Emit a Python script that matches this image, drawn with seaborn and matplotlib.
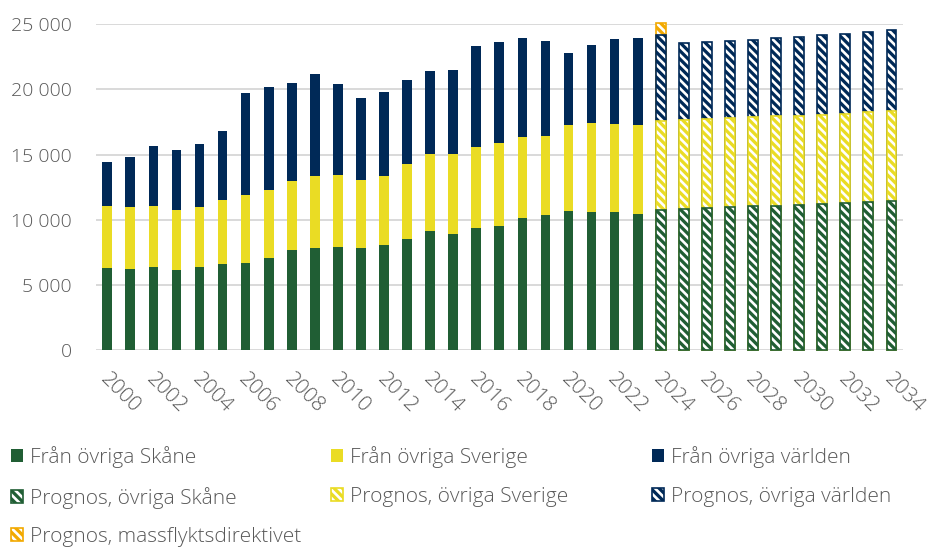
import matplotlib
matplotlib.use("Agg")
import matplotlib.pyplot as plt
import seaborn as sns
import pandas as pd
from matplotlib.patches import Rectangle, Patch
from matplotlib.legend_handler import HandlerTuple
from matplotlib.transforms import ScaledTranslation

# ---------------- data ----------------
years = [2000, 2001, 2002, 2003, 2004, 2005, 2006, 2007, 2008, 2009,
         2010, 2011, 2012, 2013, 2014, 2015, 2016, 2017, 2018, 2019,
         2020, 2021, 2022, 2023, 2024, 2025, 2026, 2027, 2028, 2029,
         2030, 2031, 2032, 2033, 2034]
first_forecast_year = 2024

fran_ovriga_skane = [6300, 6250, 6350, 6150, 6350, 6600, 6660, 7040, 7700, 7850,
                     7900, 7800, 8080, 8540, 9100, 8870, 9330, 9490, 10100, 10330,
                     10690, 10630, 10630, 10470, 10760, 10840, 10910, 10990, 11040, 11090,
                     11140, 11220, 11270, 11350, 11420]
fran_ovriga_sverige = [4740, 4740, 4740, 4610, 4590, 4880, 5200, 5230, 5250, 5490,
                       5560, 5230, 5260, 5720, 5970, 6180, 6230, 6370, 6220, 6090,
                       6550, 6760, 6690, 6780, 6790, 6830, 6810, 6810, 6810, 6840,
                       6840, 6830, 6860, 6880, 6920]
fran_ovriga_varlden = [3370, 3830, 4540, 4590, 4900, 5300, 7900, 7950, 7580, 7850,
                       6940, 6300, 6450, 6500, 6350, 6470, 7770, 7750, 7630, 7320,
                       5530, 6020, 6550, 6680, 6640, 5890, 5940, 5940, 5970, 6040,
                       6070, 6100, 6150, 6200, 6220]
massflyktsdirektivet = [0, 0, 0, 0, 0, 0, 0, 0, 0, 0,
                        0, 0, 0, 0, 0, 0, 0, 0, 0, 0,
                        0, 0, 0, 0, 900, 0, 0, 0, 0, 0,
                        0, 0, 0, 0, 0]

y_ticks = [0, 5000, 10000, 15000, 20000, 25000]
y_ticklabels = ["0", "5 000", "10 000", "15 000", "20 000", "25 000"]

labels_hist = ["Från övriga Skåne", "Från övriga Sverige", "Från övriga världen"]
labels_prog = ["Prognos, övriga Skåne", "Prognos, övriga Sverige",
               "Prognos, övriga världen", "Prognos, massflyktsdirektivet"]

GREEN = "#205E34"
YELLOW = "#EADC24"
NAVY = "#002957"
ORANGE = "#F2A900"
TEXT = "#595959"
GRID = "#D9D9D9"
HATCH = "\\\\\\\\"

# ---------------- style ----------------
sns.set_theme(style="white")
plt.rcParams["font.family"] = ["Open Sans", "DejaVu Sans"]
plt.rcParams["hatch.linewidth"] = 1.9

fig = plt.figure(figsize=(9.31, 5.51), dpi=100)
ax = fig.add_axes([0.1028, 0.3648, 0.867, 0.5911])

df = pd.DataFrame({
    "year": [str(y) for y in years],
    "skane": fran_ovriga_skane,
    "sverige": fran_ovriga_sverige,
    "varlden": fran_ovriga_varlden,
    "mass": massflyktsdirektivet,
})
df["c1"] = df["skane"]
df["c2"] = df["c1"] + df["sverige"]
df["c3"] = df["c2"] + df["varlden"]
df["c4"] = df["c3"] + df["mass"]
order = [str(y) for y in years]
fc_idx = years.index(first_forecast_year)

layers = [
    ("c4", ORANGE, df[df["mass"] > 0]),
    ("c3", NAVY, df),
    ("c2", YELLOW, df),
    ("c1", GREEN, df),
]
for i, (col, color, data) in enumerate(layers):
    z = 2 + i
    n0 = len(ax.patches)
    sns.barplot(data=data, x="year", y=col, order=order, color=color,
                saturation=1, width=0.42, linewidth=0, errorbar=None,
                ax=ax, zorder=z)
    for p in list(ax.patches[n0:]):
        p.set_clip_on(False)
        h = p.get_height()
        if h != h or h == 0:
            continue
        idx = int(round(p.get_x() + p.get_width() / 2))
        if idx >= fc_idx:
            hr = Rectangle((p.get_x(), p.get_y()), p.get_width(), h,
                           facecolor="none", edgecolor="white", hatch=HATCH,
                           linewidth=0, zorder=z + 0.1, clip_on=False)
            ax.add_patch(hr)
            orr = Rectangle((p.get_x(), p.get_y()), p.get_width(), h,
                            facecolor="none", edgecolor=color, linewidth=1.2,
                            zorder=z + 0.2, clip_on=False)
            ax.add_patch(orr)

ax.set_xlim(-0.5, len(years) - 0.5)
ax.set_ylim(0, 25000)
ax.set_yticks(y_ticks)
ax.set_yticklabels(y_ticklabels)
ax.set_xticks(range(0, len(years), 2))
ax.set_xticklabels([str(y) for y in years[::2]], rotation=-45, ha="left",
                   va="top", rotation_mode="anchor")
ax.tick_params(axis="y", length=0, pad=17, labelsize=14, labelcolor=TEXT)
ax.tick_params(axis="x", length=0, pad=14, labelsize=15, labelcolor=TEXT)
shift = ScaledTranslation(3 / 100, 0, fig.dpi_scale_trans)
for lab in ax.get_xticklabels():
    lab.set_transform(lab.get_transform() + shift)
for lab in ax.get_xticklabels() + ax.get_yticklabels():
    lab.set_fontweight("light")
ax.set_xlabel("")
ax.set_ylabel("")
for s in ax.spines.values():
    s.set_visible(False)
ax.yaxis.grid(True, color=GRID, linewidth=1.4)
ax.xaxis.grid(False)
ax.set_axisbelow(True)


def hist_handle(c):
    return Patch(facecolor=c, edgecolor="none")


def prog_handle(c):
    return (Patch(facecolor=c, edgecolor="none"),
            Patch(facecolor="none", edgecolor="white", hatch=HATCH, linewidth=0),
            Patch(facecolor="none", edgecolor=c, linewidth=1.2))


columns = [
    ([hist_handle(GREEN), prog_handle(GREEN), prog_handle(ORANGE)],
     [labels_hist[0], labels_prog[0], labels_prog[3]], 0.0118),
    ([hist_handle(YELLOW), prog_handle(YELLOW)],
     [labels_hist[1], labels_prog[1]], 0.3555),
    ([hist_handle(NAVY), prog_handle(NAVY)],
     [labels_hist[2], labels_prog[2]], 0.700),
]
for handles, labs, x in columns:
    fig.legend(handles, labs, loc="upper left", bbox_to_anchor=(x, 0.19),
               frameon=False, prop={"size": 15, "weight": "light"},
               labelcolor=TEXT, handlelength=0.58, handleheight=0.58,
               handletextpad=0.35, labelspacing=0.88, borderpad=0,
               borderaxespad=0,
               handler_map={tuple: HandlerTuple(ndivide=1, pad=0)})

fig.savefig("out.png", dpi=100)
